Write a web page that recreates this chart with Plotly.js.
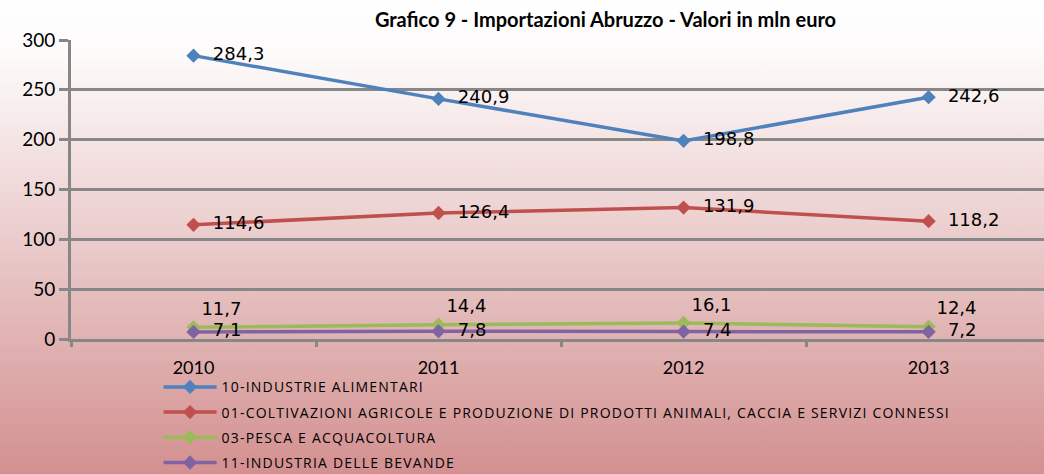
<!DOCTYPE html>
<html>
<head>
<meta charset="utf-8">
<script src="https://cdn.plot.ly/plotly-3.0.1.min.js"></script>
<style>
  html, body { margin: 0; padding: 0; }
  #chart {
    width: 1044px; height: 474px;
    background: linear-gradient(to bottom, #ffffff 0%, #fdfafa 12%, #d39090 100%);
  }
  /* la legenda dell'originale ha le lettere spaziate
     (regola globale, così vale anche per la misura del testo) */
  .legendtext { letter-spacing: 1.2px; }
</style>
</head>
<body>
<div id="chart"></div>
<script>
// Anni sull'asse x
const years = ['2010', '2011', '2012', '2013'];

// Valori in mln euro per settore
const alimentari = [284.3, 240.9, 198.8, 242.6];
const coltivazioni = [114.6, 126.4, 131.9, 118.2];
const pesca = [11.7, 14.4, 16.1, 12.4];
const bevande = [7.1, 7.8, 7.4, 7.2];

const names = [
  '10-INDUSTRIE ALIMENTARI',
  '01-COLTIVAZIONI AGRICOLE E PRODUZIONE DI PRODOTTI ANIMALI, CACCIA E SERVIZI CONNESSI',
  '03-PESCA E ACQUACOLTURA',
  '11-INDUSTRIA DELLE BEVANDE'
];

const colors = ['#4f81bd', '#c0504d', '#9bbb59', '#8064a2'];

// formato italiano con la virgola
const fmt = v => v.toFixed(1).replace('.', ',');
const nb = '\u00a0';

// etichette a destra del punto; pesca sopra la linea
const labelText = [
  v => nb + nb + fmt(v),
  v => nb + nb + fmt(v),
  v => fmt(v),
  v => nb + nb + fmt(v)
];
const labelPos = ['middle right', 'middle right', 'top right', 'middle right'];

const series = [alimentari, coltivazioni, pesca, bevande];

const data = series.map((vals, i) => ({
  x: years,
  y: vals,
  name: names[i],
  legendgroup: 'g' + i,
  type: 'scatter',
  mode: 'lines+markers+text',
  text: vals.map(labelText[i]),
  textposition: labelPos[i],
  textfont: { family: 'DejaVu Sans, sans-serif', size: 18, color: '#000' },
  line: { color: colors[i], width: 3.5 },
  marker: { symbol: 'diamond', size: 11, color: colors[i] },
  cliponaxis: false,
  hoverinfo: 'skip'
}));

const gridGray = '#878787';

const layout = {
  width: 1044,
  height: 474,
  paper_bgcolor: 'rgba(0,0,0,0)',
  plot_bgcolor: 'rgba(0,0,0,0)',
  margin: { t: 40, r: 0, b: 135, l: 71, autoexpand: false },
  font: { family: 'Lato, sans-serif', color: '#000' },
  title: {
    text: '<b>Grafico 9 - Importazioni Abruzzo - Valori in mln euro</b>',
    font: { family: 'Lato, sans-serif', size: 20, color: '#000' },
    xref: 'container', x: 0.58, xanchor: 'center',
    yref: 'container', y: 0.958, yanchor: 'middle'
  },
  xaxis: {
    type: 'category',
    range: [-0.5, 3.471],
    showgrid: false,
    showline: true, linecolor: gridGray, linewidth: 3,
    ticks: 'outside', tickson: 'boundaries', ticklen: 5, tickwidth: 3, tickcolor: gridGray,
    ticklabelstandoff: 10,
    tickfont: { family: 'Lato, sans-serif', size: 18, color: '#000' }
  },
  yaxis: {
    range: [0, 300],
    dtick: 50,
    showgrid: true, gridcolor: gridGray, gridwidth: 3,
    zeroline: false,
    showline: true, linecolor: gridGray, linewidth: 3,
    ticks: 'outside', ticklen: 9, tickwidth: 3, tickcolor: gridGray,
    tickfont: { family: 'Lato, sans-serif', size: 19, color: '#000' }
  },
  showlegend: true,
  legend: {
    x: 0.09, xanchor: 'left',
    y: -0.108, yanchor: 'top',
    bgcolor: 'rgba(0,0,0,0)',
    itemwidth: 53,
    tracegroupgap: 4,
    traceorder: 'grouped',
    font: { family: 'Open Sans, sans-serif', size: 14, color: '#000' }
  }
};

Plotly.newPlot('chart', data, layout, { displayModeBar: false, staticPlot: true });
</script>
</body>
</html>
